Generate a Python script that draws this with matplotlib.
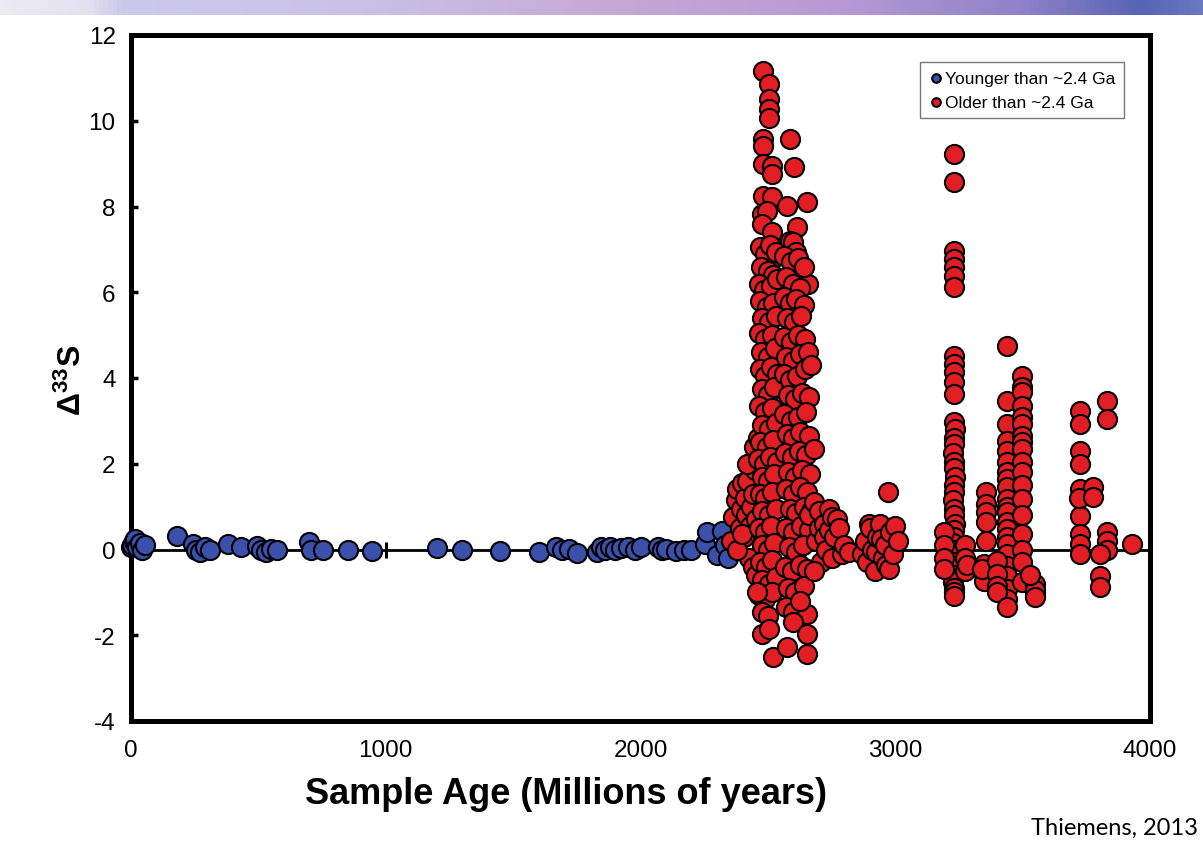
import numpy as np
import matplotlib
matplotlib.use("Agg")
import matplotlib.pyplot as plt
from matplotlib.colors import LinearSegmentedColormap

plt.rcParams['font.family'] = ['Liberation Sans', 'DejaVu Sans']
plt.rcParams['axes.unicode_minus'] = False
plt.rcParams['mathtext.fontset'] = 'custom'
plt.rcParams['mathtext.rm'] = 'Liberation Sans'
plt.rcParams['mathtext.bf'] = 'Liberation Sans:bold'

# younger than ~2.4 Ga (blue)
young_age = [0, 5, 10, 15, 25, 35, 45, 55,
             180, 245, 255, 270, 290, 310, 380, 430,
             495, 510, 530, 550, 575, 700, 705, 755,
             850, 945, 1200, 1300, 1450, 1600, 1670, 1690,
             1720, 1750, 1830, 1845, 1860, 1880, 1900, 1925,
             1950, 1980, 2000, 2070, 2085, 2100, 2140, 2170,
             2200, 2255, 2260, 2300, 2320, 2330, 2345]
young_d33s = [0.05, 0.1, 0.2, 0.25, 0.05, 0.15, 0.0, 0.1,
              0.32, 0.12, 0.0, -0.05, 0.05, 0.0, 0.12, 0.06,
              0.08, 0.0, -0.06, 0.02, 0.0, 0.18, -0.02, -0.02,
              0.0, -0.03, 0.03, 0.0, -0.03, -0.06, 0.05, 0.0,
              0.02, -0.08, -0.05, 0.05, 0.0, 0.05, -0.02, 0.03,
              0.05, 0.0, 0.05, 0.05, 0.0, 0.02, -0.03, 0.0,
              0.0, 0.12, 0.4, -0.12, 0.42, 0.1, -0.2]

# older than ~2.4 Ga (red), grouped by age window
onset_age = [2355, 2365, 2375, 2380, 2390, 2395, 2400, 2405,
             2410, 2415, 2420, 2425, 2430, 2435, 2440, 2445,
             2450, 2455, 2460, 2380, 2400, 2420, 2440, 2455]
onset_d33s = [0.2, 0.75, 1.15, 1.4, 0.5, 0.95, 1.55, 0.3,
              1.2, 0.8, 1.6, -0.2, 0.55, 1.0, -0.4, 2.4,
              1.85, -0.6, 2.6, 0.0, 0.35, 2.0, 1.3, 0.7]

spike_a_age = [2480, 2505, 2505, 2505, 2505, 2482, 2482, 2482,
               2518, 2518, 2480, 2518, 2478, 2495, 2478, 2518,
               2515, 2468, 2490, 2510, 2530, 2472, 2500, 2522,
               2465, 2485, 2512, 2535, 2470, 2495, 2520, 2478,
               2505, 2532, 2466, 2490, 2515, 2473, 2500, 2527,
               2468, 2488, 2512, 2535, 2475, 2500, 2525, 2465,
               2490, 2515, 2478, 2505, 2532, 2470, 2495, 2520,
               2462, 2485, 2510, 2535, 2475, 2500, 2525, 2468,
               2490, 2515, 2478, 2505, 2530, 2465, 2488, 2512,
               2475, 2500, 2525, 2468, 2492, 2518, 2478, 2505,
               2530, 2465, 2490, 2515, 2475, 2500, 2477, 2520,
               2457, 2505]
spike_a_d33s = [11.15, 10.85, 10.5, 10.27, 10.06, 9.57, 9.41, 9.0,
                8.94, 8.76, 8.25, 8.22, 7.82, 7.9, 7.59, 7.4,
                6.78, 7.05, 6.9, 7.1, 6.95, 6.6, 6.5, 6.4,
                6.2, 6.05, 6.15, 6.3, 5.8, 5.65, 5.75, 5.4,
                5.3, 5.45, 5.05, 4.9, 5.0, 4.6, 4.5, 4.7,
                4.2, 4.05, 4.25, 4.1, 3.75, 3.6, 3.8, 3.35,
                3.2, 3.3, 2.9, 2.8, 2.95, 2.5, 2.4, 2.55,
                2.1, 2.0, 2.15, 2.05, 1.7, 1.6, 1.75, 1.3,
                1.2, 1.35, 0.9, 0.8, 0.95, 0.5, 0.4, 0.55,
                0.1, 0.0, 0.15, -0.3, -0.4, -0.25, -0.7, -0.8,
                -0.65, -1.05, -1.15, -1.0, -1.46, -1.55, -1.97, -2.5,
                -1.0, -1.85]

spike_b_age = [2587, 2604, 2575, 2653, 2614, 2585, 2600, 2610,
               2657, 2565, 2590, 2620, 2640, 2570, 2598, 2628,
               2565, 2585, 2612, 2640, 2575, 2602, 2630, 2565,
               2590, 2618, 2645, 2572, 2600, 2628, 2657, 2565,
               2588, 2615, 2645, 2670, 2578, 2605, 2632, 2660,
               2565, 2592, 2620, 2648, 2575, 2600, 2628, 2660,
               2568, 2595, 2622, 2650, 2680, 2580, 2608, 2635,
               2665, 2570, 2598, 2625, 2655, 2585, 2612, 2640,
               2670, 2572, 2600, 2630, 2660, 2582, 2610, 2638,
               2568, 2595, 2625, 2652, 2580, 2605, 2640, 2570,
               2600, 2653, 2575, 2600, 2653, 2653, 2628]
spike_b_d33s = [9.57, 8.92, 8.01, 8.1, 7.52, 7.2, 7.17, 6.94,
                6.19, 6.85, 6.7, 6.8, 6.6, 6.35, 6.2, 6.1,
                5.9, 5.75, 5.85, 5.7, 5.4, 5.3, 5.45, 4.95,
                4.85, 5.0, 4.9, 4.5, 4.4, 4.55, 4.6, 4.1,
                3.95, 4.05, 4.2, 4.3, 3.6, 3.5, 3.65, 3.55,
                3.15, 3.0, 3.1, 3.2, 2.7, 2.6, 2.75, 2.65,
                2.25, 2.15, 2.3, 2.2, 2.35, 1.8, 1.7, 1.85,
                1.75, 1.4, 1.3, 1.45, 1.35, 0.95, 0.85, 1.0,
                0.9, 0.5, 0.4, 0.55, 0.45, 0.05, -0.05, 0.1,
                -0.4, -0.5, -0.35, -0.45, -0.9, -1.0, -0.85, -1.35,
                -1.45, -1.5, -2.28, -1.7, -1.97, -2.44, -1.2]

shoulder_age = [2660, 2680, 2690, 2700, 2700, 2710, 2720, 2720,
                2730, 2740, 2740, 2750, 2750, 2760, 2770, 2780,
                2790, 2800, 2820, 2680]
shoulder_d33s = [0.8, 1.1, 0.2, 0.9, 0.5, -0.3, 0.6, 0.3,
                 0.0, 0.95, 0.45, -0.2, 0.75, 0.3, 0.7, 0.5,
                 -0.1, 0.1, -0.05, -0.5]

meso_age = [2870, 2880, 2890, 2895, 2900, 2910, 2920, 2925,
            2930, 2940, 2945, 2950, 2960, 2965, 2970, 2975,
            2980, 2990, 3000, 3010]
meso_d33s = [-0.1, 0.2, -0.3, 0.6, 0.5, 0.0, -0.5, -0.05,
             0.3, 0.6, 0.25, -0.2, 0.1, -0.35, 1.34, -0.45,
             0.4, -0.1, 0.55, 0.2]

paleo_age = [3232, 3232, 3230, 3232, 3230, 3232, 3230, 3232,
             3230, 3232, 3230, 3232, 3230, 3234, 3230, 3232,
             3228, 3232, 3230, 3234, 3230, 3232, 3228, 3232,
             3230, 3234, 3230, 3232, 3228, 3232, 3230, 3234,
             3230, 3232, 3228, 3232, 3230, 3232, 3190, 3190,
             3190, 3190, 3275, 3275, 3275, 3280]
paleo_d33s = [9.22, 8.57, 6.96, 6.77, 6.59, 6.38, 6.12, 4.51,
              4.33, 4.14, 3.9, 3.63, 2.97, 2.8, 2.6, 2.45,
              2.25, 2.05, 1.9, 1.7, 1.5, 1.35, 1.15, 0.95,
              0.8, 0.6, 0.45, 0.3, 0.15, 0.0, -0.15, -0.3,
              -0.45, -0.6, -0.75, -0.9, -1.0, -1.08, 0.4, 0.1,
              -0.2, -0.45, 0.1, -0.2, -0.5, -0.35]

early_age = [3355, 3355, 3355, 3355, 3355, 3350, 3350, 3350,
             3340, 3438, 3438, 3438, 3438, 3438, 3438, 3438,
             3438, 3438, 3438, 3438, 3438, 3438, 3438, 3438,
             3438, 3438, 3438, 3438, 3438, 3438, 3398, 3398,
             3398, 3398, 3497, 3497, 3497, 3497, 3497, 3497,
             3497, 3497, 3497, 3497, 3497, 3497, 3497, 3497,
             3497, 3497, 3497, 3497, 3548, 3548, 3548, 3548,
             3530, 3438]
early_d33s = [1.34, 1.06, 0.87, 0.64, 0.2, -0.34, -0.57, -0.73,
              -0.45, 4.75, 3.46, 2.93, 2.53, 2.3, 2.04, 1.81,
              1.65, 1.46, 1.18, 1.0, 0.87, 0.65, 0.48, 0.3,
              0.13, -0.1, -0.38, -0.62, -0.92, -1.15, -0.27, -0.57,
              -0.85, -1.0, 4.05, 3.8, 3.67, 3.35, 3.1, 2.93,
              2.65, 2.5, 2.34, 2.04, 1.81, 1.5, 1.18, 0.8,
              0.36, 0.0, -0.29, -0.76, -0.8, -1.04, -0.95, -1.1,
              -0.6, -1.34]

eo_age = [3725, 3725, 3725, 3725, 3725, 3725, 3725, 3725,
          3725, 3720, 3776, 3776, 3832, 3832, 3832, 3832,
          3832, 3805, 3805, 3805, 3930]
eo_d33s = [3.23, 2.93, 2.3, 2.0, 1.41, 0.79, 0.36, 0.13,
           -0.1, 1.2, 1.46, 1.22, 3.46, 3.05, 0.41, 0.2,
           0.0, -0.1, -0.62, -0.87, 0.13]

xticks = [0, 1000, 2000, 3000, 4000]
yticks = [-4, -2, 0, 2, 4, 6, 8, 10, 12]

old_age = np.concatenate([onset_age, spike_a_age, spike_b_age, shoulder_age,
                          meso_age, paleo_age, early_age, eo_age])
old_d33s = np.concatenate([onset_d33s, spike_a_d33s, spike_b_d33s, shoulder_d33s,
                           meso_d33s, paleo_d33s, early_d33s, eo_d33s])

W, H = 1203, 854
fig = plt.figure(figsize=(W / 100, H / 100), dpi=100)
fig.patch.set_facecolor('white')

# slide banner strip along the top edge
band = fig.add_axes([0, 1 - 16 / H, 1, 16 / H])
cmap = LinearSegmentedColormap.from_list('band', [
    (0.0, '#ecebf3'), (0.07, '#e4e2f0'), (0.1, '#cdc9ea'), (0.3, '#c9c2e6'),
    (0.5, '#c7a9d6'), (0.7, '#b79ad4'), (0.85, '#8f82c8'), (0.95, '#5864b4'),
    (1.0, '#6a78c0')])
band.imshow(np.linspace(0, 1, 256)[None, :], aspect='auto', cmap=cmap, extent=[0, 1, 0, 1])
band.axis('off')

ax = fig.add_axes([131 / W, 1 - 722 / H, (1150 - 131) / W, (722 - 36) / H])
ax.set_xlim(0, 4000)
ax.set_ylim(-4, 12)

for sp in ax.spines.values():
    sp.set_linewidth(3.6)
    sp.set_zorder(3)

ax.axhline(0, color='black', lw=2.0, zorder=2)
ax.plot(xticks[1:-1], [0] * 3, ls='none', marker='|', ms=11, mew=2.2, color='black', zorder=2)

mk = dict(s=190, edgecolors='black', linewidths=1.5, clip_on=False, zorder=4)
ax.scatter(young_age, young_d33s, c='#3a50aa', label='Younger than ~2.4 Ga', **mk)
ax.scatter(old_age, old_d33s, c='#e01e24', label='Older than ~2.4 Ga', **mk)

ax.set_xticks(xticks)
ax.set_yticks(yticks)
ax.tick_params(axis='x', length=0, pad=13, labelsize=17.5)
ax.tick_params(axis='y', direction='in', length=5, width=2.5, pad=11, labelsize=17.5)

leg = ax.legend(loc='upper right', bbox_to_anchor=(1124 / W, 1 - 63 / H),
                bbox_transform=fig.transFigure, borderaxespad=0, fancybox=False,
                edgecolor='#555555', fontsize=12.5, markerscale=0.45, handletextpad=0.05,
                handlelength=0.9, labelspacing=0.5, borderpad=0.5, scatterpoints=1)
leg.get_frame().set_linewidth(1.0)

fig.text(566 / W, 1 - 795 / H, 'Sample Age (Millions of years)', ha='center', va='center',
         fontsize=26, fontweight='bold')
fig.text(72 / W, 1 - 380 / H, r'$\mathbf{\Delta^{33}S}$', ha='center', va='center',
         rotation=90, fontsize=23)
fig.text(1198 / W, 1 - 828 / H, 'Thiemens, 2013', ha='right', va='center',
         fontsize=17, family=['Lato', 'DejaVu Sans'])

fig.savefig('out.png', dpi=100)
